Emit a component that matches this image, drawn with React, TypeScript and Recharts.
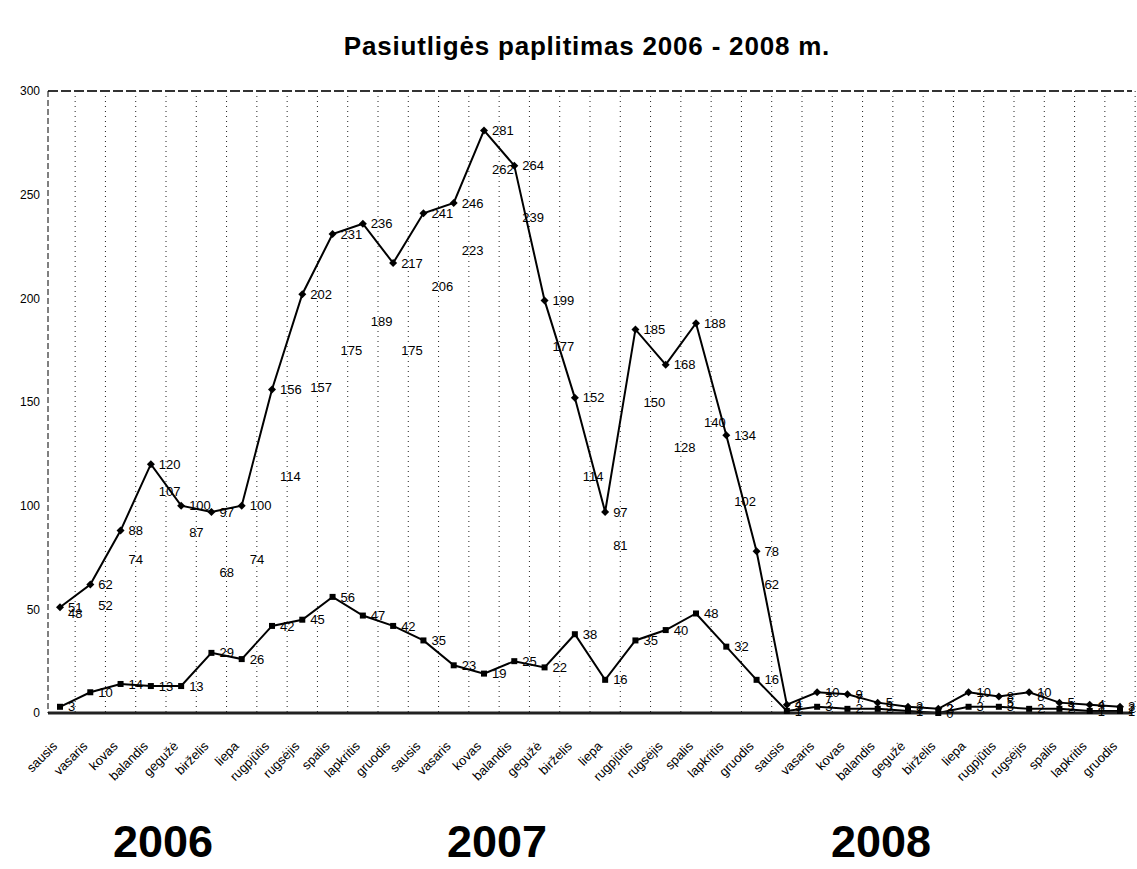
import React from "react"
import {
  LineChart,
  Line,
  XAxis,
  YAxis,
  CartesianGrid,
  ReferenceLine,
  LabelList,
} from "recharts"

// mėnesiai ir metai
const MONTHS = [
  "sausis", "vasaris", "kovas", "balandis", "gegužė", "birželis",
  "liepa", "rugpjūtis", "rugsėjis", "spalis", "lapkritis", "gruodis",
]
const YEARS = ["2006", "2007", "2008"]
const Y_TICKS = [0, 50, 100, 150, 200, 250, 300]

// viršutinė linija (iš viso)
const TOTAL = [
  51, 62, 88, 120, 100, 97, 100, 156, 202, 231, 236, 217,
  241, 246, 281, 264, 199, 152, 97, 185, 168, 188, 134, 78,
  4, 10, 9, 5, 3, 2, 10, 8, 10, 5, 4, 3,
]
// tik etiketės, linija nematoma
const WILD = [
  48, 52, 74, 107, 87, 68, 74, 114, 157, 175, 189, 175,
  206, 223, 262, 239, 177, 114, 81, 150, 128, 140, 102, 62,
  3, 7, 7, 3, 2, 2, 7, 5, 8, 3, 3, 2,
]
// apatinė linija
const DOMESTIC = [
  3, 10, 14, 13, 13, 29, 26, 42, 45, 56, 47, 42,
  35, 23, 19, 25, 22, 38, 16, 35, 40, 48, 32, 16,
  1, 3, 2, 2, 1, 0, 3, 3, 2, 2, 1, 1,
]

const CATEGORIES = YEARS.flatMap((y) => MONTHS.map((m) => `${y}|${m}`))

const data = CATEGORIES.map((key, i) => ({
  key,
  total: TOTAL[i],
  wild: WILD[i],
  domestic: DOMESTIC[i],
}))

const FONT = "'Liberation Sans', Arial, sans-serif"

function Diamond(props: any) {
  const { cx, cy } = props
  if (cx == null || cy == null) return null
  return (
    <path
      d={`M${cx},${cy - 4} L${cx + 4},${cy} L${cx},${cy + 4} L${cx - 4},${cy} Z`}
      fill="#000"
    />
  )
}

function Square(props: any) {
  const { cx, cy } = props
  if (cx == null || cy == null) return null
  return <rect x={cx - 3} y={cy - 3} width={6} height={6} fill="#000" />
}

function MonthTick(props: any) {
  const { x, y, payload } = props
  const label = String(payload.value).split("|")[1]
  return (
    <g transform={`translate(${x - 2},${y + 26})`}>
      <text
        x={0}
        y={0}
        textAnchor="end"
        transform="rotate(-45)"
        fontSize={13}
        fontFamily={FONT}
        fill="#000"
      >
        {label}
      </text>
    </g>
  )
}

// vertikalios tinklo linijos tarp kategorijų
function betweenCategories({ offset }: any) {
  const pad = 12
  const step = (offset.width - pad * 2) / (CATEGORIES.length - 1)
  const xs: number[] = []
  for (let i = 1; i <= CATEGORIES.length; i++) {
    xs.push(offset.left + pad + step * (i - 0.5))
  }
  return xs
}

const YEAR_POS = [163, 497, 881]

export default function App() {
  return (
    <div
      style={{
        position: "absolute",
        left: 0,
        top: 0,
        width: 1137,
        height: 869,
        background: "#fff",
        fontFamily: FONT,
        overflow: "hidden",
      }}
    >
      <div
        style={{
          position: "absolute",
          left: 0,
          top: 31,
          width: 1174,
          textAlign: "center",
          fontSize: 26,
          fontWeight: 700,
          letterSpacing: 0.8,
          color: "#000",
          lineHeight: "30px",
        }}
      >
        Pasiutligės paplitimas 2006 - 2008 m.
      </div>

      <LineChart
        width={1137}
        height={869}
        data={data}
        margin={{ top: 91, right: 5, left: 0, bottom: 0 }}
      >
        <CartesianGrid
          horizontal={false}
          stroke="#222"
          strokeDasharray="1 4"
          verticalCoordinatesGenerator={betweenCategories}
        />
        <XAxis
          dataKey="key"
          interval={0}
          height={156}
          padding={{ left: 12, right: 12 }}
          tick={<MonthTick />}
          tickLine={false}
          axisLine={{ stroke: "#222", strokeWidth: 3 }}
        />
        <YAxis
          domain={[0, 300]}
          ticks={Y_TICKS}
          width={48}
          tickLine={false}
          axisLine={{ stroke: "#000", strokeDasharray: "6 3" }}
          tick={{ fontSize: 12, fill: "#000", fontFamily: FONT }}
        />
        <ReferenceLine y={300} stroke="#333" strokeWidth={2} strokeDasharray="10 3" />

        <Line
          dataKey="wild"
          stroke="none"
          dot={false}
          activeDot={false}
          isAnimationActive={false}
        >
          <LabelList dataKey="wild" position="right" offset={8} fontSize={13} fill="#000" fontFamily={FONT} />
        </Line>
        <Line
          dataKey="domestic"
          stroke="#000"
          strokeWidth={2}
          dot={<Square />}
          activeDot={false}
          isAnimationActive={false}
        >
          <LabelList dataKey="domestic" position="right" offset={8} fontSize={13} fill="#000" fontFamily={FONT} />
        </Line>
        <Line
          dataKey="total"
          stroke="#000"
          strokeWidth={2}
          dot={<Diamond />}
          activeDot={false}
          isAnimationActive={false}
        >
          <LabelList dataKey="total" position="right" offset={8} fontSize={13} fill="#000" fontFamily={FONT} />
        </Line>
      </LineChart>

      {YEARS.map((y, i) => (
        <div
          key={y}
          style={{
            position: "absolute",
            left: YEAR_POS[i] - 80,
            width: 160,
            top: 818,
            textAlign: "center",
            fontSize: 45,
            fontWeight: 700,
            color: "#000",
            lineHeight: "48px",
          }}
        >
          {y}
        </div>
      ))}
    </div>
  )
}
